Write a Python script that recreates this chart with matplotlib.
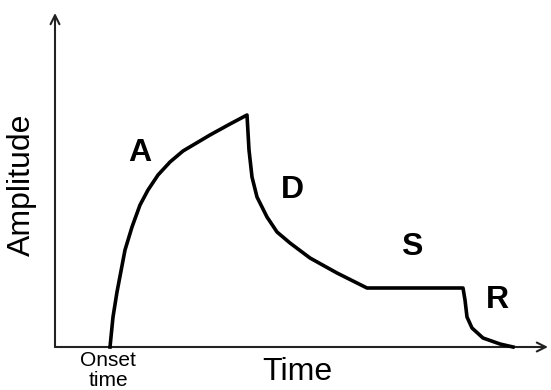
import matplotlib
matplotlib.use("Agg")
import matplotlib.pyplot as plt

plt.rcParams["font.family"] = ["Liberation Sans", "DejaVu Sans"]

# ADSR envelope (time, amplitude in arbitrary units)
attack_t = [55, 58, 62, 66, 70, 77, 85, 93, 103, 115, 128, 155, 175, 192]
attack_a = [0, 30, 55, 76, 97, 120, 142, 157, 172, 185, 196, 212, 223, 232]
decay_t = [192, 194, 197, 202, 212, 222, 235, 255, 282, 312]
decay_a = [232, 197, 170, 150, 130, 115, 104, 89, 74, 59]
sustain_t = [312, 408]
sustain_a = [59, 59]
release_t = [408, 410, 412, 417, 428, 445, 458]
release_a = [59, 47, 30, 19, 9, 3, 0]

stage_labels = ["A", "D", "S", "R"]
stage_pos_t = [85, 237, 357, 442]
stage_pos_a = [194, 157, 100, 47]

fig = plt.figure(figsize=(5.51, 3.90), dpi=100)
ax = fig.add_axes([0, 0, 1, 1])
ax.set_xlim(-55, 496)
ax.set_ylim(-43, 347)
ax.axis("off")

# axes with open arrow heads
arrow = dict(arrowstyle="->", color="#222222", lw=1.5,
             shrinkA=0, shrinkB=0, mutation_scale=16)
ax.annotate("", xy=(0, 334), xytext=(0, 0), arrowprops=arrow)
ax.annotate("", xy=(493, 0), xytext=(0, 0), arrowprops=arrow)

t = attack_t + decay_t[1:] + sustain_t[1:] + release_t[1:]
a = attack_a + decay_a[1:] + sustain_a[1:] + release_a[1:]
ax.plot(t, a, color="black", lw=2.6, solid_joinstyle="round", zorder=3)

for lab, x, y in zip(stage_labels, stage_pos_t, stage_pos_a):
    ax.text(x, y, lab, fontsize=23, fontweight="bold", ha="center", va="center")

ax.text(-33, 162, "Amplitude", fontsize=23, rotation=90, ha="center", va="center")
ax.text(242, -25, "Time", fontsize=23, ha="center", va="center")
ax.text(53, -13, "Onset", fontsize=15, ha="center", va="center")
ax.text(53, -33, "time", fontsize=15, ha="center", va="center")

fig.savefig("out.png", dpi=100)
